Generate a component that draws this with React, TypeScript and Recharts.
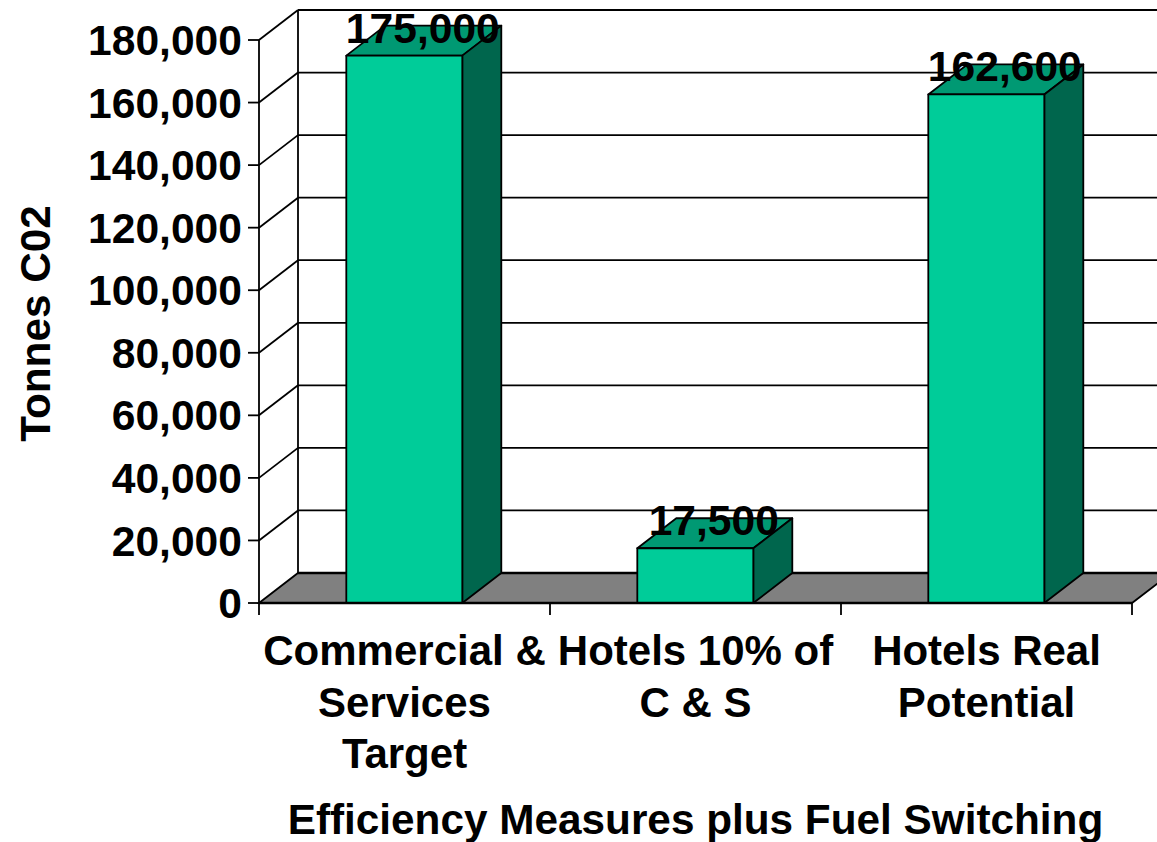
import React from "react";
import { BarChart, Bar, XAxis, YAxis, Label, LabelList, Customized, usePlotArea } from "recharts";

const categories = ["Commercial & Services Target", "Hotels 10% of C & S", "Hotels Real Potential"];
const tonnes = [175000, 17500, 162600];
const yTicks = [0, 20000, 40000, 60000, 80000, 100000, 120000, 140000, 160000, 180000];
const categoryLines = [["Commercial &", "Services", "Target"], ["Hotels 10% of", "C & S"], ["Hotels Real", "Potential"]];
const rows = categories.map((name, i) => ({ name, tonnes: tonnes[i] }));

const DX = 39;
const DY = 30;
const FONT = "'Liberation Sans', Arial, sans-serif";
const FS = 42;
const FS_NUM = 42.6;
const FS_TITLE = 42.3;

function Walls() {
  const p = usePlotArea();
  if (!p) return null;
  const { x, y, width, height } = p;
  const b = y + height;
  const r = x + width;
  return (
    <g>
      <polygon points={`${x},${b} ${x + DX},${b - DY} ${r + DX},${b - DY} ${r},${b}`} fill="#808080" stroke="#000" strokeWidth={1.8} />
      <line x1={x + DX} y1={b - DY} x2={r + DX} y2={b - DY} stroke="#000" strokeWidth={2.6} />
      <line x1={x + DX} y1={y - DY} x2={x + DX} y2={b - DY} stroke="#000" strokeWidth={1.8} />
      {yTicks.slice(1).map((t) => {
        const yy = b - (t / 180000) * height;
        return (
          <g key={t}>
            <line x1={x} y1={yy} x2={x + DX} y2={yy - DY} stroke="#000" strokeWidth={1.8} />
            <line x1={x + DX} y1={yy - DY} x2={r + DX} y2={yy - DY} stroke="#000" strokeWidth={1.8} />
          </g>
        );
      })}
      {[0, 1, 2, 3].map((i) => {
        const xx = x + (i * width) / categories.length;
        return <line key={i} x1={xx} y1={b} x2={xx} y2={b + 12} stroke="#000" strokeWidth={1.8} />;
      })}
    </g>
  );
}

function Bar3D(props: any) {
  const { x, y, width, height } = props;
  const b = y + height;
  const r = x + width;
  return (
    <g stroke="#000" strokeWidth={1.8} strokeLinejoin="round">
      <polygon points={`${x},${y} ${x + DX},${y - DY} ${r + DX},${y - DY} ${r},${y}`} fill="#009973" />
      <polygon points={`${r},${y} ${r + DX},${y - DY} ${r + DX},${b - DY} ${r},${b}`} fill="#00664d" />
      <rect x={x} y={y} width={width} height={height} fill="#00cc99" />
    </g>
  );
}

function CatTick(props: any) {
  const { x, index } = props;
  const lines = categoryLines[index] || [];
  return (
    <text textAnchor="middle" fontFamily={FONT} fontSize={FS} fontWeight={700} fill="#000">
      {lines.map((l, i) => (
        <tspan key={l} x={x} y={665 + i * 51.5}>{l}</tspan>
      ))}
    </text>
  );
}

function BarValue(props: any) {
  const { x, y, width, value } = props;
  return (
    <text x={x + width / 2 + DX / 2 - 1} y={y - 13} textAnchor="middle" fontFamily={FONT} fontSize={FS_NUM} fontWeight={700} fill="#000">
      {Number(value).toLocaleString("en-US")}
    </text>
  );
}

function YTitle(props: any) {
  const { viewBox } = props;
  const cx = viewBox.x + 50;
  const cy = viewBox.y + viewBox.height / 2 + 2;
  return (
    <text x={cx} y={cy} transform={`rotate(-90 ${cx} ${cy})`} textAnchor="middle" fontFamily={FONT} fontSize={FS_TITLE} fontWeight={700} fill="#000">
      Tonnes C02
    </text>
  );
}

export default function App() {
  return (
    <div style={{ position: "absolute", left: 0, top: 0 }}>
      <BarChart
        width={1157}
        height={842}
        data={rows}
        margin={{ top: 40, right: 25, bottom: 0, left: 0 }}
        barCategoryGap="30%"
      >
        <Customized component={Walls} />
        <XAxis
          dataKey="name"
          interval={0}
          tick={<CatTick />}
          tickLine={false}
          axisLine={{ stroke: "#000", strokeWidth: 2.4 }}
          height={239}
        >
          <Label value="Efficiency Measures plus Fuel Switching" position="insideBottom" offset={8} fontFamily={FONT} fontSize={FS_TITLE} fontWeight={700} fill="#000" />
        </XAxis>
        <YAxis
          width={259}
          domain={[0, 180000]}
          ticks={yTicks}
          interval={0}
          tickFormatter={(v: number) => v.toLocaleString("en-US")}
          tick={{ fontFamily: FONT, fontSize: FS_NUM, fontWeight: 700, fill: "#000" }}
          tickLine={{ stroke: "#000", strokeWidth: 1.8 }}
          tickSize={11}
          tickMargin={6}
          axisLine={{ stroke: "#000", strokeWidth: 1.8 }}
        >
          <Label content={<YTitle />} />
        </YAxis>
        <Bar dataKey="tonnes" isAnimationActive={false} shape={<Bar3D />}>
          <LabelList dataKey="tonnes" content={<BarValue />} />
        </Bar>
      </BarChart>
    </div>
  );
}
